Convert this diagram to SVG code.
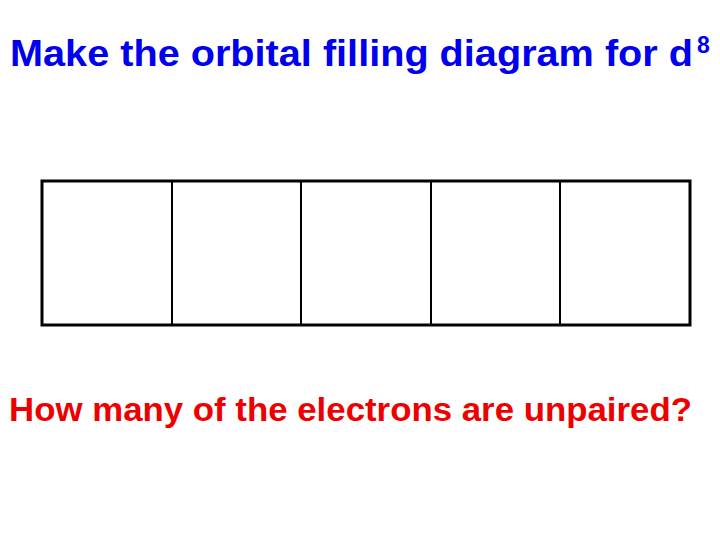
<svg xmlns="http://www.w3.org/2000/svg" width="720" height="540" viewBox="0 0 720 540">
<style>
.t{font-family:"Liberation Sans",Arial,sans-serif;font-weight:bold}
.outer{fill:none;stroke:#000;stroke-width:3}
.inner{stroke:#000;stroke-width:2}
</style>
<rect width="720" height="540" fill="#fff"/>
<g id="title">
<text class="t" x="10" y="66" font-size="37" fill="#0000ee" textLength="683" lengthAdjust="spacingAndGlyphs">Make the orbital filling diagram for d</text>
<text class="t" x="697" y="53" font-size="23" fill="#0000ee">8</text>
</g>
<g id="orbitals">
<rect class="outer" x="42" y="181" width="648" height="144"/>
<line class="inner" x1="172" y1="181" x2="172" y2="325"/>
<line class="inner" x1="301" y1="181" x2="301" y2="325"/>
<line class="inner" x1="431" y1="181" x2="431" y2="325"/>
<line class="inner" x1="560" y1="181" x2="560" y2="325"/>
</g>
<g id="question">
<text class="t" x="9" y="421" font-size="33" fill="#ee0000" textLength="683" lengthAdjust="spacingAndGlyphs">How many of the electrons are unpaired?</text>
</g>
</svg>
